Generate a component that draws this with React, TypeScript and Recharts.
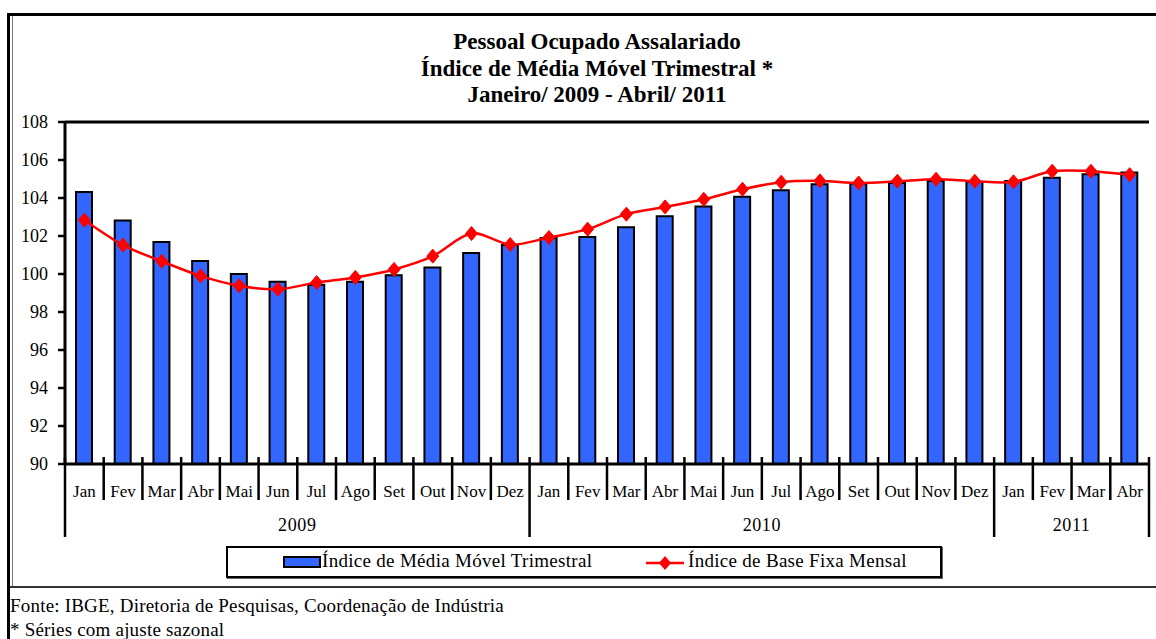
import React from 'react';
import { ComposedChart, Bar, Line, XAxis, YAxis, ReferenceLine } from 'recharts';

const months = [
  'Jan', 'Fev', 'Mar', 'Abr', 'Mai', 'Jun', 'Jul', 'Ago', 'Set', 'Out', 'Nov', 'Dez',
  'Jan', 'Fev', 'Mar', 'Abr', 'Mai', 'Jun', 'Jul', 'Ago', 'Set', 'Out', 'Nov', 'Dez',
  'Jan', 'Fev', 'Mar', 'Abr',
];
const yearOf = [
  '2009', '2009', '2009', '2009', '2009', '2009', '2009', '2009', '2009', '2009', '2009', '2009',
  '2010', '2010', '2010', '2010', '2010', '2010', '2010', '2010', '2010', '2010', '2010', '2010',
  '2011', '2011', '2011', '2011',
];
const mediaMovel = [
  104.32, 102.81, 101.69, 100.69, 100.0, 99.59, 99.43, 99.59, 99.94, 100.34, 101.11, 101.52,
  101.9, 101.95, 102.46, 103.04, 103.55, 104.06, 104.41, 104.72, 104.76, 104.79, 104.9, 104.85,
  104.9, 105.07, 105.25, 105.34,
];
const baseFixa = [
  102.83, 101.52, 100.67, 99.9, 99.38, 99.2, 99.55, 99.82, 100.24, 100.94, 102.13, 101.55,
  101.92, 102.36, 103.15, 103.53, 103.93, 104.46, 104.83, 104.9, 104.79, 104.88, 104.99, 104.88,
  104.85, 105.41, 105.41, 105.23,
];
const yTicks = [90, 92, 94, 96, 98, 100, 102, 104, 106, 108];

const titleLines = [
  'Pessoal Ocupado Assalariado',
  'Índice de Média Móvel Trimestral *',
  'Janeiro/ 2009 - Abril/ 2011',
];
const legendBar = 'Índice de Média Móvel Trimestral';
const legendLine = 'Índice de Base Fixa Mensal';
const footer1 = 'Fonte: IBGE, Diretoria de Pesquisas, Coordenação de Indústria';
const footer2 = '* Séries com ajuste sazonal';

const data = months.map((m, i) => ({ m, year: yearOf[i], mm: mediaMovel[i], bf: baseFixa[i] }));

const FONT = '"Liberation Serif", "Times New Roman", Times, serif';
const W = 1156;
const CHART_H = 587;
const M = { top: 122, right: 7, left: 8, bottom: 43 };
const Y_W = 57;
const PLOT_W = W - M.left - M.right - Y_W;
const STEP = PLOT_W / months.length;

// Smoothed curve similar to spreadsheet smoothing (Catmull-Rom style Bezier)
function smoothCurve(context: any) {
  let pts: number[][] = [];
  return {
    areaStart() {},
    areaEnd() {},
    lineStart() {
      pts = [];
    },
    lineEnd() {
      if (!pts.length) return;
      context.moveTo(pts[0][0], pts[0][1]);
      const t = 1 / 6;
      for (let i = 0; i < pts.length - 1; i++) {
        const p0 = pts[i - 1] || pts[i];
        const p1 = pts[i];
        const p2 = pts[i + 1];
        const p3 = pts[i + 2] || pts[i + 1];
        context.bezierCurveTo(
          p1[0] + (p2[0] - p0[0]) * t,
          p1[1] + (p2[1] - p0[1]) * t,
          p2[0] - (p3[0] - p1[0]) * t,
          p2[1] - (p3[1] - p1[1]) * t,
          p2[0],
          p2[1]
        );
      }
    },
    point(x: number, y: number) {
      pts.push([+x, +y]);
    },
  };
}

function MonthTick(props: any) {
  const { x, y, payload } = props;
  const i: number = payload && payload.index != null ? payload.index : props.index;
  const isYearStart = i === 0 || yearOf[i] !== yearOf[i - 1];
  const isLast = i === months.length - 1;
  const xl = x - STEP / 2;
  let yearLabel = null;
  if (isYearStart) {
    const count = yearOf.filter((v) => v === yearOf[i]).length;
    yearLabel = (
      <text
        x={xl + (count * STEP) / 2}
        y={y + 67}
        textAnchor="middle"
        fontFamily={FONT}
        fontSize={18}
        letterSpacing={0.6}
        fill="#000"
      >
        {yearOf[i]}
      </text>
    );
  }
  return (
    <g>
      <line x1={xl} x2={xl} y1={y - 7} y2={isYearStart ? y + 73 : y + 36} stroke="#000" strokeWidth={2.5} />
      {isLast && (
        <line x1={xl + STEP} x2={xl + STEP} y1={y - 7} y2={y + 73} stroke="#000" strokeWidth={2.5} />
      )}
      <text x={x} y={y + 33} textAnchor="middle" fontFamily={FONT} fontSize={17} fill="#000">
        {months[i]}
      </text>
      {yearLabel}
    </g>
  );
}

function Diamond(props: any) {
  const { cx, cy, index } = props;
  if (cx == null || cy == null) return <g key={index} />;
  return (
    <path
      key={index}
      d={`M${cx},${cy - 7} L${cx + 6},${cy} L${cx},${cy + 7} L${cx - 6},${cy} Z`}
      fill="#FF0000"
      stroke="#FF0000"
      strokeWidth={1}
    />
  );
}

export default function App() {
  return (
    <div style={{ position: 'absolute', left: 0, top: 0, width: W, height: 639, background: '#fff', overflow: 'hidden' }}>
      {/* outer frame */}
      <div style={{ position: 'absolute', left: 7, top: 13, width: W, height: 640, borderTop: '3px solid #000', borderLeft: '3px solid #000' }} />
      <div style={{ position: 'absolute', left: 12, top: 16, width: 1, height: 571, background: '#777' }} />
      <div style={{ position: 'absolute', left: 10, top: 586, width: W, height: 2, background: '#333' }} />

      {/* title */}
      <div
        style={{
          position: 'absolute',
          left: 297,
          top: 29,
          width: 600,
          textAlign: 'center',
          fontFamily: FONT,
          fontWeight: 'bold',
          fontSize: 23,
          lineHeight: '26.5px',
          color: '#000',
        }}
      >
        {titleLines.map((t) => (
          <div key={t} style={{ whiteSpace: 'nowrap' }}>{t}</div>
        ))}
      </div>

      <div style={{ position: 'absolute', left: 0, top: 0 }}>
        <ComposedChart width={W} height={CHART_H} data={data} margin={M} barCategoryGap={0}>
          <XAxis
            dataKey="m"
            interval={0}
            tickLine={false}
            tickSize={0}
            tickMargin={0}
            height={80}
            axisLine={{ stroke: '#000', strokeWidth: 3 }}
            tick={<MonthTick />}
          />
          <YAxis
            domain={[90, 108]}
            ticks={yTicks}
            interval={0}
            width={Y_W}
            tickSize={7}
            tickMargin={10}
            allowDataOverflow
            axisLine={{ stroke: '#000', strokeWidth: 3 }}
            tickLine={{ stroke: '#000', strokeWidth: 2.5 }}
            tick={{ fontFamily: FONT, fontSize: 18, fill: '#000' }}
          />
          <YAxis
            yAxisId="r"
            orientation="right"
            width={0}
            tick={false}
            tickLine={false}
            axisLine={{ stroke: '#000', strokeWidth: 2.5 }}
          />
          <ReferenceLine y={108} stroke="#000" strokeWidth={3} />
          <Bar dataKey="mm" barSize={16} fill="#3366FF" stroke="#000" strokeWidth={2} isAnimationActive={false} />
          <Line
            dataKey="bf"
            type={smoothCurve as any}
            stroke="#FF0000"
            strokeWidth={2.5}
            dot={<Diamond />}
            activeDot={false}
            isAnimationActive={false}
          />
        </ComposedChart>
      </div>

      {/* legend */}
      <div
        style={{
          position: 'absolute',
          left: 226,
          top: 546,
          width: 712,
          height: 28,
          border: '2px solid #000',
          boxShadow: '1px 1px 0 #666',
          background: '#fff',
          fontFamily: FONT,
          fontSize: 19,
          color: '#000',
        }}
      >
        <svg style={{ position: 'absolute', left: 55, top: 8 }} width={40} height={14}>
          <rect x={1} y={1} width={36} height={10} fill="#3366FF" stroke="#000" strokeWidth={2} />
        </svg>
        <div style={{ position: 'absolute', left: 94, top: 2, whiteSpace: 'nowrap', letterSpacing: 0.3 }}>{legendBar}</div>
        <svg style={{ position: 'absolute', left: 418, top: 5 }} width={40} height={20}>
          <line x1={0} x2={38} y1={10} y2={10} stroke="#FF0000" strokeWidth={2.5} />
          <path d="M19,3 L25,10 L19,17 L13,10 Z" fill="#FF0000" />
        </svg>
        <div style={{ position: 'absolute', left: 460, top: 2, whiteSpace: 'nowrap', letterSpacing: 0.3 }}>{legendLine}</div>
      </div>

      {/* footer */}
      <div style={{ position: 'absolute', left: 10, top: 595, fontFamily: FONT, fontSize: 19, color: '#000', whiteSpace: 'nowrap', letterSpacing: 0.2 }}>
        {footer1}
      </div>
      <div style={{ position: 'absolute', left: 10, top: 619, fontFamily: FONT, fontSize: 19, color: '#000', whiteSpace: 'nowrap', letterSpacing: 0.2 }}>
        {footer2}
      </div>
    </div>
  );
}
